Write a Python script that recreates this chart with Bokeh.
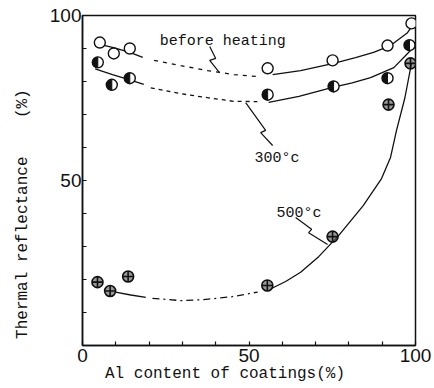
import math
from bokeh.plotting import figure
from bokeh.models import FixedTicker, Range1d, Label
from bokeh.embed import file_html
from bokeh.resources import INLINE

# ---- measured points (Al content %, thermal reflectance %) ----
al_before = [5.2, 9.4, 14.2, 55.6, 75.1, 91.6, 98.8]
r_before = [91.8, 88.5, 90.0, 84.0, 86.4, 90.9, 97.6]

al_300 = [4.6, 8.8, 14.2, 55.6, 75.4, 91.6, 98.2]
r_300 = [85.8, 79.0, 81.0, 76.0, 78.5, 81.0, 91.0]

al_500 = [4.5, 8.3, 13.7, 55.5, 75.1, 91.9, 98.5]
r_500 = [19.2, 16.5, 20.9, 18.2, 33.0, 73.0, 85.5]

# ---- fitted curves ----
before_solid_left_x = [5.5, 9.3, 14.0, 18.1]
before_solid_left_y = [91.2, 90.3, 88.9, 87.3]
before_dotted_x = [21.5, 29.5, 37.6, 45.5, 52.6]
before_dotted_y = [86.4, 84.8, 83.3, 82.1, 81.5]
before_solid_right_x = [57.1, 65.5, 75.4, 82.0, 87.4, 92.5, 97.6, 99.1]
before_solid_right_y = [82.1, 83.3, 85.5, 87.2, 88.8, 90.9, 94.8, 97.0]

c300_solid_left_x = [3.8, 9.0, 14.2, 18.4]
c300_solid_left_y = [83.8, 82.1, 80.5, 79.1]
c300_dotted_x = [20.5, 29.5, 37.5, 45.4, 52.5]
c300_dotted_y = [78.1, 76.3, 75.1, 74.0, 73.9]
c300_solid_right_x = [55.9, 65.0, 75.1, 81.0, 86.5, 93.5, 98.5]
c300_solid_right_y = [73.7, 75.5, 78.2, 79.6, 81.2, 84.2, 89.4]

c500_solid_left_x = [9.9, 14.5, 19.0]
c500_solid_left_y = [16.2, 15.3, 14.6]
c500_dashdot_x = [21.0, 29.5, 36.4, 45.0, 52.6]
c500_dashdot_y = [14.3, 13.6, 13.9, 14.8, 16.2]
c500_solid_right_x = [56.6, 61.0, 65.5, 71.0, 76.9, 84.3, 89.8, 92.5, 94.3, 96.8, 98.8]
c500_solid_right_y = [17.2, 19.4, 22.2, 27.0, 33.3, 42.4, 50.6, 57.0, 65.2, 75.0, 85.5]

# ---- ticks ----
x_major = [0, 50, 100]
y_major = [50, 100]
minor = [10, 20, 30, 40, 60, 70, 80, 90]

# ---- annotation texts and leaders ----
lab_texts = ["before heating", "300°c", "500°c"]
lab_x = [42.1, 58.4, 65.0]
lab_y = [92.1, 56.7, 40.0]
leader_xs = [[38.2, 40.0, 38.2, 41.2], [49.0, 55.0, 53.5, 57.1], [64.0, 68.8, 67.9, 73.6]]
leader_ys = [[90.6, 87.0, 86.4, 82.6], [73.6, 65.2, 64.5, 60.6], [38.8, 35.2, 34.2, 30.6]]

NB = "\u00a0"
x_title = "Al content of coatings(%)" + NB * 5
y_title = "Thermal reflectance" + NB * 4 + "(%)" + NB * 7

INK = "#111111"
MONO = "Liberation Mono"
SANS = "Liberation Sans"

p = figure(width=434, height=388, output_backend="svg", toolbar_location=None,
           x_range=Range1d(0, 100), y_range=Range1d(0, 100),
           min_border_left=82, min_border_right=19, min_border_top=15, min_border_bottom=43)
p.background_fill_color = "white"
p.border_fill_color = "white"
p.outline_line_color = INK
p.outline_line_width = 1.5
p.grid.visible = False

for ax, majors in ((p.xaxis[0], x_major), (p.yaxis[0], y_major)):
    ax.ticker = FixedTicker(ticks=majors, minor_ticks=minor)
    ax.axis_line_color = INK
    ax.axis_line_width = 1.5
    ax.major_tick_in = 4
    ax.major_tick_out = 0
    ax.minor_tick_in = 4
    ax.minor_tick_out = 0
    ax.major_tick_line_color = INK
    ax.minor_tick_line_color = INK
    ax.major_tick_line_width = 1.2
    ax.minor_tick_line_width = 1.2
    ax.major_label_text_font = SANS
    ax.major_label_text_font_size = "19px"
    ax.major_label_text_color = INK
    ax.axis_label_text_font = MONO
    ax.axis_label_text_font_size = "16px"
    ax.axis_label_text_font_style = "normal"
    ax.axis_label_text_color = INK

p.xaxis.major_label_standoff = 3
p.yaxis.major_label_standoff = 1
p.xaxis.axis_label = x_title
p.yaxis.axis_label = y_title
p.xaxis.axis_label_standoff = 0
p.yaxis.axis_label_standoff = 15

# curves
solid = dict(line_color=INK, line_width=1.3)
p.line(before_solid_left_x, before_solid_left_y, **solid)
p.line(before_dotted_x, before_dotted_y, line_dash="4 5", **solid)
p.line(before_solid_right_x, before_solid_right_y, **solid)
p.line(c300_solid_left_x, c300_solid_left_y, **solid)
p.line(c300_dotted_x, c300_dotted_y, line_dash="4 4", **solid)
p.line(c300_solid_right_x, c300_solid_right_y, **solid)
p.line(c500_solid_left_x, c500_solid_left_y, **solid)
p.line(c500_dashdot_x, c500_dashdot_y, line_dash="7 4 2 4", **solid)
p.line(c500_solid_right_x, c500_solid_right_y, **solid)

# leaders
p.multi_line(leader_xs, leader_ys, line_color=INK, line_width=1.2)

# markers
p.scatter(al_before, r_before, marker="circle", size=11, fill_color="white",
          line_color=INK, line_width=1.4)
p.scatter(al_300, r_300, marker="circle", size=11, fill_color="white",
          line_color=INK, line_width=1.4)
p.wedge(al_300, r_300, radius=5.2, radius_units="screen", start_angle=math.pi / 2,
        end_angle=3 * math.pi / 2, fill_color=INK, line_color=INK)
p.scatter(al_500, r_500, marker="circle_cross", size=11, fill_color="#555555",
          fill_alpha=0.6, line_color=INK, line_width=1.6)

# annotation labels
for t, x, y in zip(lab_texts, lab_x, lab_y):
    p.add_layout(Label(x=x, y=y, text=t, text_font=MONO, text_font_size="15px",
                       text_color=INK, text_align="center", text_baseline="alphabetic"))

open("out.html", "w").write(file_html(p, INLINE))
